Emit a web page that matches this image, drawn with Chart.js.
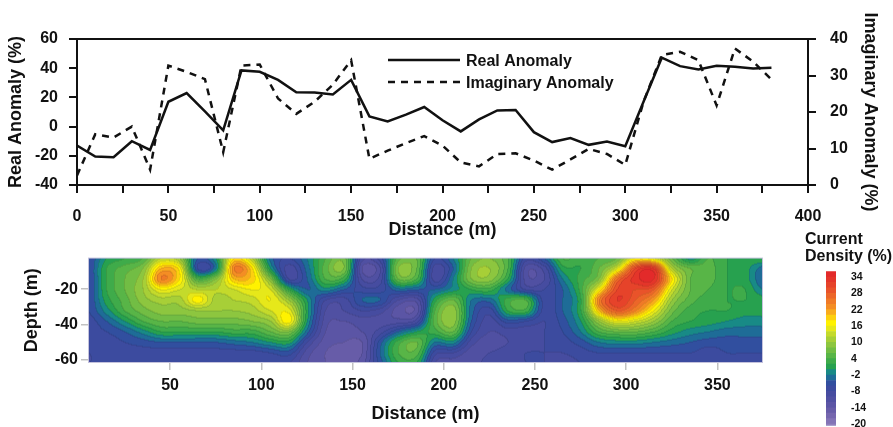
<!DOCTYPE html>
<html>
<head>
<meta charset="utf-8">
<script src="https://cdn.jsdelivr.net/npm/chart.js@4.4.1/dist/chart.umd.min.js"></script>
<style>
  html, body { margin: 0; padding: 0; background: #fff; }
  #wrap { position: relative; width: 893px; height: 427px; overflow: hidden; }
  canvas { position: absolute; }
  #profile { left: 0; top: 0; }
  #section { left: 0; top: 245px; }
  #scale { left: 780px; top: 225px; }
</style>
</head>
<body>
<div id="wrap">
  <canvas id="profile" width="893" height="245"></canvas>
  <canvas id="section" width="780" height="182"></canvas>
  <canvas id="scale" width="113" height="214"></canvas>
</div>
<script>
// ---- profile data (top panel) ----
var distance = [0, 10, 20, 30, 40, 50, 60, 70, 80, 90, 100, 110, 120, 130, 140, 150, 160, 170, 180, 190,
  200, 210, 220, 230, 240, 250, 260, 270, 280, 290, 300, 310, 320, 330, 340, 350, 360, 370, 380];
var realAnomaly = [-13, -20.5, -21, -10, -16, 17, 23, 10.5, -2.5, 38.5, 37.5, 32, 23.5, 23.3, 22, 32, 7, 3.6, 8.2, 13.4,
  4.3, -3.3, 4.9, 11.1, 11.4, -3.8, -10.6, -7.9, -12.5, -10.2, -13.4, 17, 47.2, 41.4, 39.1, 41.7, 41, 39.8, 40.3];
var imaginaryAnomaly = [2.6, 13.9, 13, 16, 4.2, 32.7, 31, 29, 9, 32.7, 33, 23.7, 19.5, 22.8, 27.5, 34.2, 7.2, 9.4, 11.5, 13.4,
  10.8, 6.2, 5.1, 8.5, 8.7, 6.7, 4.2, 7, 9.9, 8.5, 5.5, 22.8, 35.6, 36.5, 34.2, 21.8, 37.4, 33.8, 28.9];
var profileTicks = [0, 25, 50, 75, 100, 125, 150, 175, 200, 225, 250, 275, 300, 325, 350, 375, 400];
var realTicks = [-40, -30, -20, -10, 0, 10, 20, 30, 40, 50, 60];
var imagTicks = [0, 5, 10, 15, 20, 25, 30, 35, 40];

// ---- current density section (bottom panel), one row per depth ----
var densityX = [5, 15, 25, 35, 45, 55, 65, 75, 85, 95, 105, 115, 125, 135, 145, 155, 165, 175, 185,
  195, 205, 215, 225, 235, 245, 255, 265, 275, 285, 295, 305, 315, 325, 335, 345, 355, 365, 375];
var densityDepth = [-2, -8, -14, -20, -26, -32, -38, -44, -50, -56, -62];
var currentDensity = [
  [-6, 0, 2, 4, 12, 10, -4, 0, 18, 12, -3, -6, -2, 4, 7, -9, -7, 5, 6, -6, -2, 6, 8, 4, -7, -4, 4, 3, 4, 6, 16, 14, 6, -1, 4, 2, 2, 2],
  [-6, 2, 5, 8, 20, 17, -6, -2, 24, 18, 0, -9, -3, 5, 8, -12, -10, 8, 6, -9, -4, 8, 10, 4, -11, -9, 1, 2, 6, 14, 30, 32, 12, 6, 5, 2, 1, -3],
  [-6, 2, 6, 10, 24, 18, 4, 8, 20, 19, 8, -8, -4, 4, 3, -10, -9, 6, 4, -9, -2, 8, 9, 2, -11, -10, -2, 3, 8, 26, 33, 34, 18, 6, 5, 2, 1, -4],
  [-6, 2, 6, 10, 16, 14, 12, 12, 14, 16, 14, 2, -4, -1, -4, -7, -7, -3, -4, -4, -1, 2, 3, -3, -8, -8, -4, 3, 16, 30, 30, 28, 14, 6, 4, 2, 2, -2],
  [-6, 1, 5, 9, 11, 11, 17, 11, 12, 13, 16, 10, 0, -8, -9, -4, -4, -10, -11, 1, 6, -2, -3, 3, 4, -7, -4, 2, 24, 32, 28, 22, 10, 5, 3, 2, 2, 1],
  [-6, -1, 4, 7, 9, 9, 10, 10, 10, 11, 14, 15, 1, -10, -10, -8, -9, -13, -13, 4, 9, -3, -7, 2, 3, -7, -4, 2, 20, 28, 24, 16, 7, 3, 2, 2, 1, 1],
  [-7, -4, 0, 4, 6, 6, 7, 7, 7, 8, 10, 17, 0, -11, -12, -11, -11, -11, -9, 5, 9, -4, -9, -5, -6, -8, -5, 0, 10, 16, 14, 10, 4, 2, 1, 0, -1, -1],
  [-7, -6, -4, -1, 2, 2, 2, 2, 3, 3, 6, 8, -3, -12, -13, -12, -9, -4, 0, 3, 6, -6, -10, -9, -9, -8, -6, -2, 4, 6, 6, 4, 1, -1, -2, -3, -3, -3],
  [-7, -7, -6, -5, -4, -4, -4, -4, -3, -2, 0, 1, -8, -13, -14, -14, -5, 3, 6, -2, -1, -9, -11, -10, -9, -8, -7, -5, -2, -1, -1, -2, -3, -4, -5, -5, -5, -5],
  [-8, -7, -7, -7, -7, -7, -7, -7, -7, -7, -6, -5, -11, -14, -15, -14, -4, 4, 5, -7, -8, -11, -10, -9, -8, -8, -8, -7, -6, -6, -6, -6, -6, -6, -7, -6, -6, -6],
  [-8, -8, -8, -8, -8, -8, -8, -8, -8, -8, -8, -8, -12, -14, -15, -13, -5, 2, 2, -10, -11, -11, -9, -9, -8, -8, -9, -8, -8, -8, -8, -8, -8, -8, -7, -7, -7, -7]
];
var sectionTicks = [50, 100, 150, 200, 250, 300, 350];
var depthTicks = [-60, -40, -20];

// ---- colour scale ----
var colorbarLevels = [-22, -20, -18, -16, -14, -12, -10, -8, -6, -4, -2, 0, 2, 4, 6, 8, 10, 12, 14, 16, 18, 20, 22, 24, 26, 28, 30, 32, 34, 36];
var bandColors = ['#8f80bd', '#8373b6', '#7566ae', '#675ca8', '#5b55a5', '#5050a2', '#464ca0', '#3c4b9f', '#314f9f',
  '#1e6c97', '#188a86', '#27a14f', '#3fab4a', '#58b547', '#72bd44', '#8dc63f', '#a7cf37', '#c4da2b', '#e6e81a',
  '#fff200', '#fdd00f', '#f9ab1d', '#f48d24', '#f07a27', '#ec6629', '#e9532a', '#e6432a', '#e4352a', '#e32a2a'];
var colorbarTicks = [-20, -14, -8, -2, 4, 10, 16, 22, 28, 34];

Chart.defaults.font.family = '"Liberation Sans", Arial, sans-serif';
Chart.defaults.font.weight = 'bold';
Chart.defaults.color = '#111';

function setTicks(list) {
  return function (scale) {
    scale.ticks = list.map(function (v) { return { value: v }; });
  };
}

function points(xs, ys) {
  return xs.map(function (x, i) { return { x: x, y: ys[i] }; });
}

// legend drawn inside the plot, as in the figure
var insideLegend = {
  id: 'insideLegend',
  afterDatasetsDraw: function (chart) {
    var ctx = chart.ctx, a = chart.chartArea;
    var x0 = a.left + 311, y0 = a.top + 21;
    chart.data.datasets.forEach(function (ds, i) {
      var y = y0 + i * 22;
      ctx.save();
      ctx.strokeStyle = ds.borderColor;
      ctx.lineWidth = ds.borderWidth;
      ctx.setLineDash(ds.borderDash || []);
      ctx.beginPath();
      ctx.moveTo(x0, y);
      ctx.lineTo(x0 + 72, y);
      ctx.stroke();
      ctx.setLineDash([]);
      ctx.fillStyle = '#111';
      ctx.font = 'bold 16px "Liberation Sans", Arial, sans-serif';
      ctx.textBaseline = 'middle';
      ctx.fillText(ds.label, x0 + 78, y + 1.5);
      ctx.restore();
    });
  }
};

var topFrame = {
  id: 'topFrame',
  afterDraw: function (chart) {
    var ctx = chart.ctx, a = chart.chartArea;
    ctx.save();
    ctx.strokeStyle = '#111';
    ctx.lineWidth = 2;
    ctx.beginPath();
    ctx.moveTo(a.left - 1, a.top);
    ctx.lineTo(a.right + 1, a.top);
    ctx.stroke();
    ctx.restore();
  }
};

var axisTitleFont = { size: 18, weight: 'bold' };
var tickFont = { size: 16, weight: 'bold' };

var profileChart = new Chart(document.getElementById('profile'), {
  type: 'line',
  data: {
    datasets: [
      { label: 'Real Anomaly', data: points(distance, realAnomaly), yAxisID: 'y',
        borderColor: '#111', borderWidth: 2.5, pointRadius: 0, tension: 0, fill: false },
      { label: 'Imaginary Anomaly', data: points(distance, imaginaryAnomaly), yAxisID: 'y1',
        borderColor: '#111', borderWidth: 2.5, borderDash: [7, 6], pointRadius: 0, tension: 0, fill: false }
    ]
  },
  options: {
    responsive: false,
    animation: false,
    layout: { padding: { top: 39 } },
    plugins: { legend: { display: false }, tooltip: { enabled: false } },
    scales: {
      x: {
        type: 'linear', min: 0, max: 400,
        afterBuildTicks: setTicks(profileTicks),
        afterFit: function (s) { s.height = 60; },
        grid: { drawOnChartArea: false, tickLength: 8, color: '#111', lineWidth: 2 },
        border: { color: '#111', width: 2 },
        ticks: { font: tickFont, padding: 14, maxRotation: 0, autoSkip: false,
          callback: function (v) { return v % 50 === 0 ? v : ''; } },
        title: { display: true, text: 'Distance (m)', font: axisTitleFont, padding: { bottom: 4 } }
      },
      y: {
        position: 'left', min: -40, max: 60,
        afterBuildTicks: setTicks(realTicks),
        afterFit: function (s) { s.width = 77; },
        grid: { drawOnChartArea: false, tickLength: 8, color: '#111', lineWidth: 2 },
        border: { color: '#111', width: 2 },
        ticks: { font: tickFont, padding: 11,
          callback: function (v) { return v % 20 === 0 ? v : ''; } },
        title: { display: true, text: 'Real Anomaly (%)', font: axisTitleFont, padding: { top: 5 } }
      },
      y1: {
        position: 'right', min: 0, max: 40,
        afterBuildTicks: setTicks(imagTicks),
        afterFit: function (s) { s.width = 85; },
        grid: { drawOnChartArea: false, tickLength: 8, color: '#111', lineWidth: 2 },
        border: { color: '#111', width: 2 },
        ticks: { font: tickFont, padding: 14,
          callback: function (v) { return v % 10 === 0 ? v : ''; } },
        title: { display: true, text: 'Imaginary Anomaly (%)', font: axisTitleFont, padding: { top: 12 } }
      }
    }
  },
  plugins: [insideLegend, topFrame]
});

// smooth (Catmull-Rom) reading of the density grid, used only for painting
function cubic(p0, p1, p2, p3, t) {
  return p1 + 0.5 * t * (p2 - p0 + t * (2 * p0 - 5 * p1 + 4 * p2 - p3 + t * (3 * (p1 - p2) + p3 - p0)));
}
function clampIdx(i, n) { return i < 0 ? 0 : (i > n - 1 ? n - 1 : i); }
function sampleDensity(xv, dv) {
  var nc = densityX.length, nr = densityDepth.length;
  var fx = (xv - densityX[0]) / (densityX[1] - densityX[0]);
  var fy = (densityDepth[0] - dv) / (densityDepth[0] - densityDepth[1]);
  fx = Math.max(0, Math.min(nc - 1.0001, fx));
  fy = Math.max(0, Math.min(nr - 1.0001, fy));
  var ix = Math.floor(fx), iy = Math.floor(fy), tx = fx - ix, ty = fy - iy;
  var col = [];
  for (var r = -1; r <= 2; r++) {
    var row = currentDensity[clampIdx(iy + r, nr)];
    col.push(cubic(row[clampIdx(ix - 1, nc)], row[clampIdx(ix, nc)], row[clampIdx(ix + 1, nc)], row[clampIdx(ix + 2, nc)], tx));
  }
  return cubic(col[0], col[1], col[2], col[3], ty);
}
function hexRgb(h) {
  return [parseInt(h.substr(1, 2), 16), parseInt(h.substr(3, 2), 16), parseInt(h.substr(5, 2), 16)];
}
var bandRgb = bandColors.map(hexRgb);
function bandIndex(v) {
  var i = Math.floor((v - colorbarLevels[0]) / (colorbarLevels[1] - colorbarLevels[0]));
  return clampIdx(i, bandRgb.length);
}

var contourFill = {
  id: 'contourFill',
  beforeDatasetsDraw: function (chart) {
    var a = chart.chartArea, xs = chart.scales.x, ys = chart.scales.y;
    var w = Math.round(a.right - a.left), h = Math.round(a.bottom - a.top);
    var idx = new Int16Array(w * h);
    var i, j;
    for (j = 0; j < h; j++) {
      var dv = ys.getValueForPixel(a.top + j + 0.5);
      for (i = 0; i < w; i++) {
        idx[j * w + i] = bandIndex(sampleDensity(xs.getValueForPixel(a.left + i + 0.5), dv));
      }
    }
    var off = document.createElement('canvas');
    off.width = w; off.height = h;
    var octx = off.getContext('2d');
    var img = octx.createImageData(w, h);
    for (j = 0; j < h; j++) {
      for (i = 0; i < w; i++) {
        var n = j * w + i, c = bandRgb[idx[n]];
        // faint contour line where the band changes
        var edge = (i > 0 && idx[n - 1] !== idx[n]) || (j > 0 && idx[n - w] !== idx[n]);
        var f = edge ? 0.9 : 1;
        img.data[n * 4] = c[0] * f; img.data[n * 4 + 1] = c[1] * f; img.data[n * 4 + 2] = c[2] * f; img.data[n * 4 + 3] = 255;
      }
    }
    octx.putImageData(img, 0, 0);
    chart.ctx.drawImage(off, a.left, a.top);
  },
  afterDatasetsDraw: function (chart) {
    var ctx = chart.ctx, a = chart.chartArea;
    ctx.save();
    ctx.strokeStyle = '#c4c2dc';
    ctx.lineWidth = 1;
    ctx.strokeRect(a.left + 0.5, a.top + 0.5, a.right - a.left - 1, a.bottom - a.top - 1);
    ctx.restore();
  }
};

var gridPoints = [];
densityDepth.forEach(function (d, r) {
  densityX.forEach(function (x, c) { gridPoints.push({ x: x, y: d, v: currentDensity[r][c] }); });
});

var sectionChart = new Chart(document.getElementById('section'), {
  type: 'scatter',
  data: { datasets: [{ label: 'Current Density (%)', data: gridPoints, pointRadius: 0 }] },
  options: {
    responsive: false,
    animation: false,
    layout: { padding: { top: 6, right: 17 } },
    plugins: { legend: { display: false }, tooltip: { enabled: false } },
    scales: {
      x: {
        type: 'linear', min: 5, max: 375,
        afterBuildTicks: setTicks(sectionTicks),
        afterFit: function (s) { s.height = 64; },
        grid: { drawOnChartArea: false, tickLength: 7, color: '#c2c2c2', lineWidth: 1.5 },
        border: { display: false },
        ticks: { font: tickFont, padding: 6, maxRotation: 0, autoSkip: false },
        title: { display: true, text: 'Distance (m)', font: axisTitleFont, padding: { bottom: 2 } }
      },
      y: {
        type: 'linear', min: -62, max: -2,
        afterBuildTicks: setTicks(depthTicks),
        afterFit: function (s) { s.width = 88; },
        grid: { drawOnChartArea: false, tickLength: 7, color: '#c2c2c2', lineWidth: 1.5 },
        border: { display: false },
        ticks: { font: tickFont, padding: 3 },
        title: { display: true, text: 'Depth (m)', font: axisTitleFont, padding: { top: 21 } }
      }
    }
  },
  plugins: [contourFill]
});

var scaleChart = new Chart(document.getElementById('scale'), {
  type: 'bar',
  data: {
    labels: [''],
    datasets: bandColors.map(function (c, i) {
      return { data: [[colorbarLevels[i], colorbarLevels[i + 1]]], backgroundColor: c, yAxisID: 'y',
        grouped: false, barPercentage: 1, categoryPercentage: 1, borderWidth: 0 };
    })
  },
  options: {
    responsive: false,
    animation: false,
    layout: { padding: { left: 25, bottom: 2 } },
    plugins: {
      legend: { display: false },
      tooltip: { enabled: false },
      title: { display: true, text: ['Current', 'Density (%)'], align: 'start', color: '#111',
        font: { size: 16, weight: 'bold', lineHeight: 1.05 }, padding: { top: 6.6, bottom: 5.8 } }
    },
    scales: {
      x: { display: false },
      y: {
        position: 'right', min: -20.6, max: 36.2,
        afterBuildTicks: setTicks(colorbarTicks),
        afterFit: function (s) { s.width = 57; },
        grid: { display: false },
        border: { display: false },
        ticks: { font: { size: 10.5, weight: 'bold' }, padding: 7 }
      },
      pad: {
        position: 'left', display: true,
        afterFit: function (s) { s.width = 21; },
        grid: { display: false },
        border: { display: false },
        ticks: { display: false }
      }
    }
  }
});
</script>
</body>
</html>
